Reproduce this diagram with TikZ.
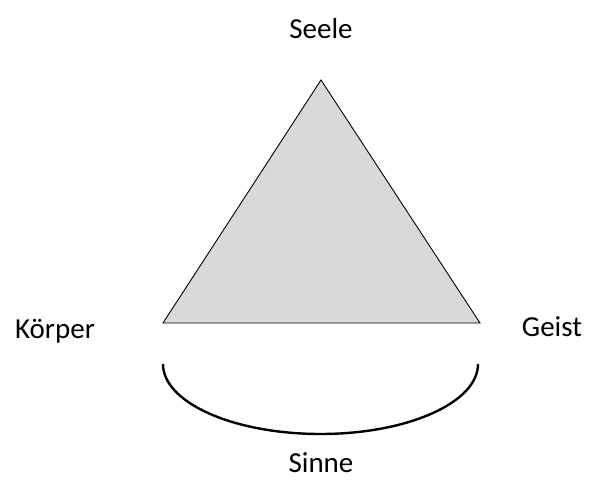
\documentclass[tikz,border=0pt]{standalone}
\usepackage{fontspec}
\setmainfont{Carlito}
\usepackage{xcolor}
\usepackage{tikz}
\usetikzlibrary{positioning,calc}
\definecolor{trifill}{HTML}{D9D9D9}

\begin{document}
\begin{tikzpicture}[
        x=1pt,y=1pt,
        word/.style={font=\fontsize{29}{33}\selectfont,inner sep=0pt},
        tri/.style={draw,line width=0.9pt,fill=trifill,line join=miter},
        bow/.style={draw,line width=2.4pt},
    ]
    \useasboundingbox (0,0) rectangle (605,491);

    % === triangle ===
    \coordinate (top) at (321,411);
    \coordinate (left) at (163,168);
    \coordinate (right) at (480,168);
    \path[tri] (top) -- (left) -- (right) -- cycle;

    % === labels ===
    \node[word] (seele) at (321,462) {Seele};
    \node[word] (koerper) at (55,160) {Körper};
    \node[word] (geist) at (552,164) {Geist};
    \node[word] (sinne) at (321,28) {Sinne};

    % === bow below ===
    \coordinate (bowstart) at (163,127);
    \path[bow] (bowstart) arc[start angle=180,end angle=360,x radius=157.5,y radius=70];
\end{tikzpicture}
\end{document}
